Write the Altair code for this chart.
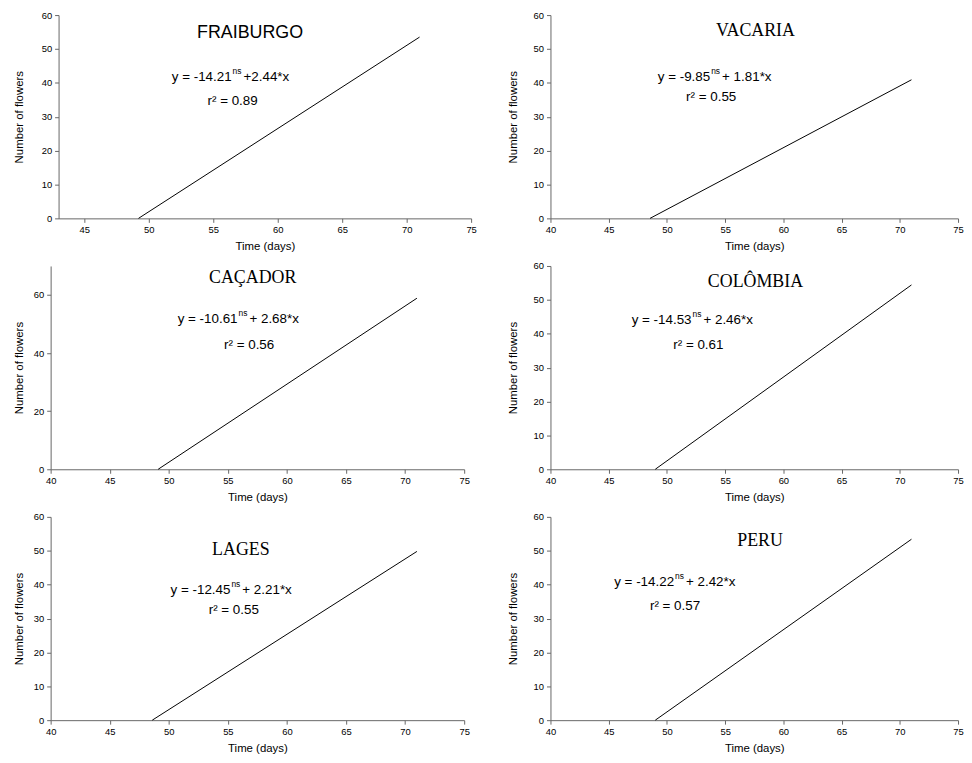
import altair as alt
import pandas as pd

# ---- data ----
sites = ["FRAIBURGO", "VACARIA", "CAÇADOR", "COLÔMBIA", "LAGES", "PERU"]
x_start = [49.2, 48.55, 49.1, 49.0, 48.6, 49.0]   # day where the fitted line meets 0
x_end = [71, 71, 71, 71, 71, 71]
y_end = [53.5, 40.9, 58.9, 54.4, 49.8, 53.4]

eq_left = ["y = -14.21", "y = -9.85", "y = -10.61", "y = -14.53", "y = -12.45", "y = -14.22"]
eq_right = ["+2.44*x", "+ 1.81*x", "+ 2.68*x", "+ 2.46*x", "+ 2.21*x", "+ 2.42*x"]
r2_text = ["r² = 0.89", "r² = 0.55", "r² = 0.56", "r² = 0.61", "r² = 0.55", "r² = 0.57"]

x_domains = [[43, 75], [40, 75], [40, 75], [40, 75], [40, 75], [40, 75]]
x_ticks = [[45, 50, 55, 60, 65, 70, 75]] + [[40, 45, 50, 55, 60, 65, 70, 75]] * 5
y_domains = [[0, 60], [0, 60], [0, 70], [0, 60], [0, 60], [0, 60]]
y_ticks = [[0, 10, 20, 30, 40, 50, 60], [0, 10, 20, 30, 40, 50, 60], [0, 20, 40, 60],
           [0, 10, 20, 30, 40, 50, 60], [0, 10, 20, 30, 40, 50, 60], [0, 10, 20, 30, 40, 50, 60]]

# annotation anchors (data units)
title_x = [57.85, 57.6, 57.1, 57.6, 56.1, 58.0]
title_y = [54.8, 55.4, 65.8, 55.3, 50.1, 53.0]
eq_x = [56.5, 53.8, 55.9, 52.2, 55.3, 50.7]
eq_y = [41.65, 41.7, 51.9, 44.0, 38.4, 40.9]
r2_x = [56.5, 53.8, 56.8, 52.7, 55.5, 50.7]
r2_y = [34.7, 35.7, 42.7, 36.7, 32.6, 33.6]

SANS = "Liberation Sans"
SERIF = "Liberation Serif"
H = 205
# panel 1 has its x axis starting 8px right of the y axis area of the others
W = [424, 411, 417, 411, 417, 411]
x_range_start = [8, 0, 0, 0, 0, 0]
y_offset = [-8, 0, 0, 0, 0, 0]
y_title_pad = [17, 15, 9, 15, 9, 15]


def panel(i):
    xs = alt.Scale(domain=x_domains[i], nice=False, zero=False,
                   range=[x_range_start[i], W[i]])
    ys = alt.Scale(domain=y_domains[i], nice=False)
    xa = alt.Axis(values=x_ticks[i], title="Time (days)", labelFlush=False, labelOverlap=False,
                  grid=False, tickSize=4, labelPadding=2, titlePadding=7)
    ya = alt.Axis(values=y_ticks[i], title="Number of flowers", labelFlush=False, labelOverlap=False,
                  grid=False, tickSize=4, labelPadding=3, titlePadding=y_title_pad[i],
                  offset=y_offset[i])

    def xy(xf, yf):
        return dict(x=alt.X(xf, scale=xs, axis=xa), y=alt.Y(yf, scale=ys, axis=ya))

    line_df = pd.DataFrame({"x": [x_start[i], x_end[i]], "y": [0, y_end[i]]})
    line = alt.Chart(line_df).mark_line(color="black", strokeWidth=1).encode(**xy("x:Q", "y:Q"))

    ann = pd.DataFrame({
        "tx": [title_x[i]], "ty": [title_y[i]], "title": [sites[i]],
        "ex": [eq_x[i]], "ey": [eq_y[i]], "el": [eq_left[i]], "er": [eq_right[i]],
        "rx": [r2_x[i]], "ry": [r2_y[i]], "r2": [r2_text[i]], "sup": ["ns"],
    })
    base = alt.Chart(ann)

    title = base.mark_text(font=SANS if i == 0 else SERIF, fontSize=18, color="black",
                           baseline="middle").encode(text="title:N", **xy("tx:Q", "ty:Q"))
    e1 = base.mark_text(font=SANS, fontSize=13.5, color="black", align="right",
                        baseline="middle", dx=-1).encode(text="el:N", **xy("ex:Q", "ey:Q"))
    e2 = base.mark_text(font=SANS, fontSize=8.5, color="black", align="left",
                        baseline="middle", dx=0, dy=-6).encode(text="sup:N", **xy("ex:Q", "ey:Q"))
    e3 = base.mark_text(font=SANS, fontSize=13.5, color="black", align="left",
                        baseline="middle", dx=11).encode(text="er:N", **xy("ex:Q", "ey:Q"))
    r2 = base.mark_text(font=SANS, fontSize=13.5, color="black",
                        baseline="middle").encode(text="r2:N", **xy("rx:Q", "ry:Q"))
    return alt.layer(line, title, e1, e2, e3, r2).properties(width=W[i], height=H)


row1 = alt.hconcat(panel(0), panel(1), spacing=30)
row2 = alt.hconcat(panel(2), panel(3), spacing=37)
row3 = alt.hconcat(panel(4), panel(5), spacing=37)

chart = alt.concat(row1, row2, row3, columns=1, align="none", spacing=9).properties(
    padding={"left": 5, "top": -1, "right": 0, "bottom": 0}
).configure_view(stroke=None).configure_axis(
    domainColor="#666666", tickColor="#666666", labelColor="black", titleColor="black",
    labelFont=SANS, titleFont=SANS, labelFontSize=9.5, titleFontSize=11.5,
    titleFontWeight="normal", domainWidth=1, tickWidth=1,
)

chart.save("out.html", embed_options={"renderer": "svg", "actions": False})
